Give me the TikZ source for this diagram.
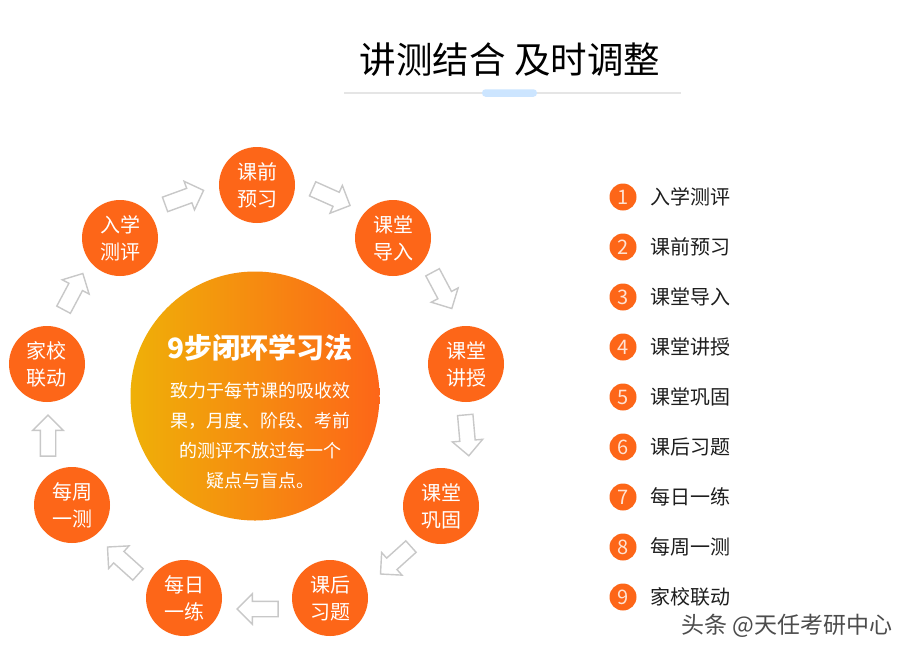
\documentclass[tikz,border=0pt]{standalone}
\usepackage{fontspec}
\setmainfont{Noto Sans CJK SC}
\usetikzlibrary{shapes.arrows}
\definecolor{org}{HTML}{FD6618}
\definecolor{amb}{HTML}{EFB008}
\definecolor{arw}{HTML}{C8C8C8}
\definecolor{digit}{HTML}{FFE3D3}
\definecolor{ink}{HTML}{1E1E1E}
\tikzset{
  stepdot/.style={circle,fill=org,minimum size=76pt,inner sep=0pt,text=white,align=center,
    font=\fontsize{20}{27}\selectfont},
  flow/.style={single arrow,draw=arw,fill=white,line width=1.4pt,minimum height=41pt,
    inner xsep=0pt,inner ysep=7pt,single arrow head extend=7.5pt,single arrow head indent=0pt,anchor=center},
  numdot/.style={circle,fill=org,minimum size=27pt,inner sep=0pt,text=digit,font=\fontsize{20}{20}\selectfont},
  legend/.style={anchor=west,inner sep=0pt,text=ink,font=\fontsize{20}{20}\selectfont},
  body/.style={text=white,inner sep=0pt,font=\fontsize{18}{18}\selectfont},
}
\begin{document}
\begin{tikzpicture}[x=1pt,y=-1pt]
\useasboundingbox (0,0) rectangle (913,657);
\fill[white] (0,0) rectangle (913,657);
% title
\node (title) at (510,60) [inner sep=0pt,text=black,font=\fontsize{36.5}{37}\selectfont] {讲测结合 及时调整};
\coordinate (ruleL) at (344,93);
\coordinate (ruleR) at (681,93);
\draw[color=black!10,line width=1.5pt] (ruleL) -- (ruleR);
\node (pill) at (509.5,93) [rounded corners=3.5pt,fill=blue!50!cyan!20!white,minimum width=55pt,minimum height=7.5pt,inner sep=0pt] {};
% centre
\node (hub) at (255,396) [circle,minimum size=249pt,inner sep=0pt,left color=amb,right color=org,shading angle=90] {};
\node (hubtitle) at (260,348) [inner sep=0pt,text=white,font=\fontsize{28}{28}\selectfont\bfseries] {9步闭环学习法};
\node (l1) at (260,391) [body] {致力于每节课的吸收效};
\node (l2) at (260,421) [body] {果，月度、阶段、考前};
\node (l3) at (260,451) [body] {的测评不放过每一个};
\node (l4) at (260,481) [body] {疑点与盲点。};
% ring
\node[stepdot] (s1) at (120,238) {入学\\测评};
\node[stepdot] (s2) at (257,185) {课前\\预习};
\node[stepdot] (s3) at (393,238) {课堂\\导入};
\node[stepdot] (s4) at (466,364) {课堂\\讲授};
\node[stepdot] (s5) at (441,506) {课堂\\巩固};
\node[stepdot] (s6) at (330,598) {课后\\习题};
\node[stepdot] (s7) at (184,598) {每日\\一练};
\node[stepdot] (s8) at (72,505) {每周\\一测};
\node[stepdot] (s9) at (47,364) {家校\\联动};
% arrows
\node[flow,rotate=20] (a1) at (180.7,198.7) {};
\node[flow,rotate=-24] (a2) at (327.8,195.6) {};
\node[flow,rotate=-62] (a3) at (440.4,287) {};
\node[flow,rotate=-85] (a4) at (466.7,431.5) {};
\node[flow,rotate=-138] (a5) at (398.6,557.7) {};
\node[flow,rotate=180] (a6) at (261.5,609) {};
\node[flow,rotate=138] (a7) at (125.6,563.3) {};
\node[flow,rotate=90] (a8) at (48,439.5) {};
\node[flow,rotate=62] (a9) at (71.4,295) {};
% legend
\foreach \n/\t [count=\i from 0] in {1/入学测评,2/课前预习,3/课堂导入,4/课堂讲授,5/课堂巩固,6/课后习题,7/每日一练,8/每周一测,9/家校联动}{
  \node[numdot] (n\n) at (623,197+50*\i) {\n};
  \node[legend] (t\n) at (650,197+50*\i) {\t};
}
% watermark
\node (mark) at (787,626) [inner sep=0pt,text=black!70,font=\fontsize{23}{23}\selectfont] {头条 @天任考研中心};
\end{tikzpicture}
\end{document}
